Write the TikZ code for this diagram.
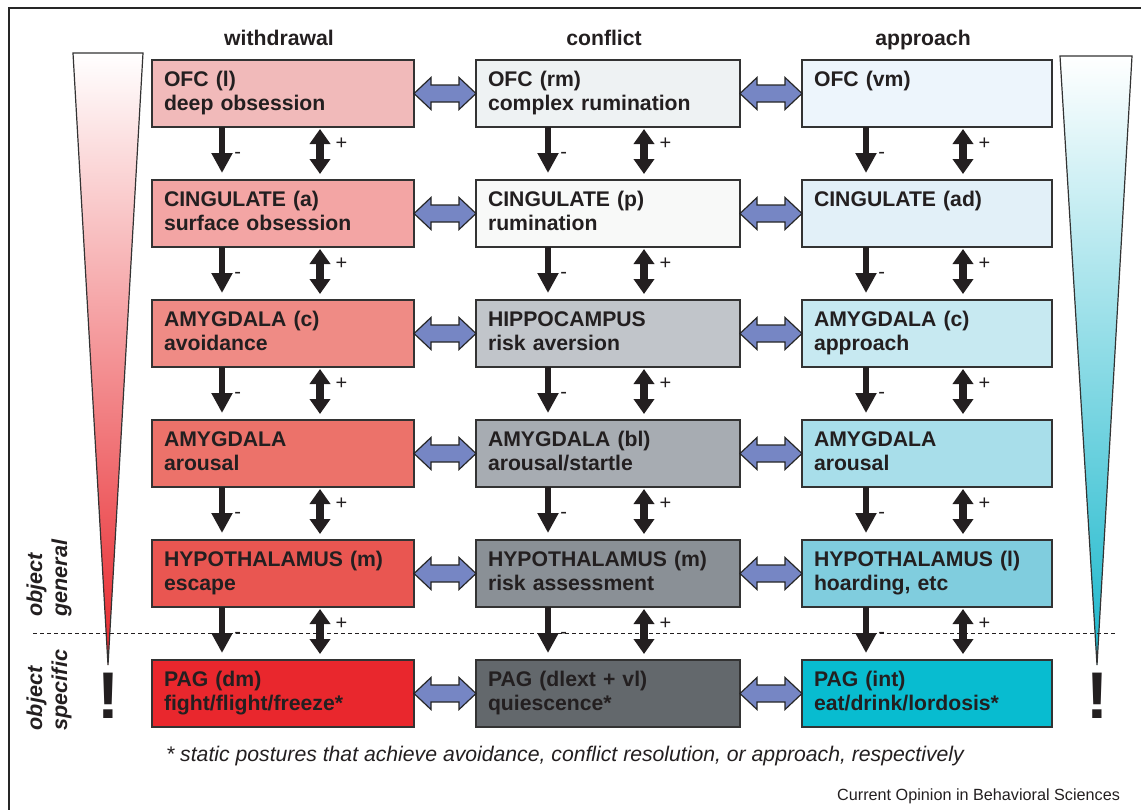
\documentclass[tikz,border=0pt]{standalone}
\usepackage{fontspec}
\setmainfont{Liberation Sans}
\usetikzlibrary{arrows.meta,positioning,calc}

\definecolor{wd1}{RGB}{241,186,186}
\definecolor{wd2}{RGB}{243,165,164}
\definecolor{wd3}{RGB}{239,139,133}
\definecolor{wd4}{RGB}{236,114,106}
\definecolor{wd5}{RGB}{233,86,81}
\definecolor{wd6}{RGB}{233,39,45}
\definecolor{cf1}{RGB}{238,242,243}
\definecolor{cf2}{RGB}{248,249,248}
\definecolor{cf3}{RGB}{193,197,202}
\definecolor{cf4}{RGB}{167,172,178}
\definecolor{cf5}{RGB}{138,144,150}
\definecolor{cf6}{RGB}{99,104,108}
\definecolor{ap1}{RGB}{237,245,252}
\definecolor{ap2}{RGB}{226,240,248}
\definecolor{ap3}{RGB}{199,233,241}
\definecolor{ap4}{RGB}{168,222,234}
\definecolor{ap5}{RGB}{128,205,222}
\definecolor{ap6}{RGB}{8,188,208}
\definecolor{linkblue}{RGB}{118,134,196}
\definecolor{wdbar}{RGB}{232,38,43}
\definecolor{apbar}{RGB}{25,183,204}
\definecolor{ink}{RGB}{35,31,32}

% fat two-headed arrow between two boxes side by side
\newcommand{\linkarrow}[2]{%
  \path[link] (#1.east) -- ++(17,-16) -- ++(0,7.5) -- ($(#2.west)+(-17,-8.5)$) -- ++(0,-7.5)
    -- (#2.west) -- ++(-17,16) -- ++(0,-7.5) -- ($(#1.east)+(17,8.5)$) -- ++(0,7.5) -- cycle;}

\begin{document}
\begin{tikzpicture}[
  x=0.5pt, y=-0.5pt,
  node distance=26.5pt and 31pt,
  box/.style={rectangle, draw=black!80, line width=0.8pt, outer sep=0pt, text=ink, text width=119pt,
    minimum height=33.5pt, inner xsep=6pt, inner ysep=2pt, align=left,
    font=\bfseries\fontsize{10.6}{12}\selectfont,
    execute at begin node=\strut, execute at end node=\strut},
  midbox/.style={box, text width=120pt},
  appbox/.style={box, text width=113pt},
  head/.style={font=\bfseries\fontsize{10.6}{12}\selectfont, text=ink, inner sep=0pt, text depth=0pt, xshift=-2pt},
  neg/.style={ink, line width=3.4pt, -{Triangle[length=10pt, width=10pt]}},
  both/.style={ink, line width=3.6pt, {Triangle[length=7.5pt, width=10pt]}-{Triangle[length=7.5pt, width=10pt]}},
  sign/.style={font=\fontsize{10}{12}\selectfont, text=ink, inner sep=0pt},
  link/.style={fill=linkblue, draw=black!85, line width=0.6pt, line join=miter},
  side/.style={rotate=90, align=left, text=ink, font=\bfseries\itshape\fontsize{10.8}{12.5}\selectfont},
  bang/.style={font=\bfseries\fontsize{33}{33}\selectfont, text=ink, inner sep=0pt}
]
  \useasboundingbox (0,0) rectangle (1141,810);
  \draw[black!85, line width=0.7pt] (1141,8) -- (9,8) -- (9,810);

  % withdrawal column
  \node[box, fill=wd1, anchor=north west] (w1) at (152,60) {OFC (l)\\deep obsession};
  \node[box, fill=wd2, below=of w1] (w2) {CINGULATE (a)\\surface obsession};
  \node[box, fill=wd3, below=of w2] (w3) {AMYGDALA (c)\\avoidance};
  \node[box, fill=wd4, below=of w3] (w4) {AMYGDALA\\arousal};
  \node[box, fill=wd5, below=of w4] (w5) {HYPOTHALAMUS (m)\\escape};
  \node[box, fill=wd6, below=of w5] (w6) {PAG (dm)\\fight/flight/freeze*};

  % conflict column
  \node[midbox, fill=cf1, right=of w1] (c1) {OFC (rm)\\complex rumination};
  \node[midbox, fill=cf2, right=of w2] (c2) {CINGULATE (p)\\rumination};
  \node[midbox, fill=cf3, right=of w3] (c3) {HIPPOCAMPUS\\risk aversion};
  \node[midbox, fill=cf4, right=of w4] (c4) {AMYGDALA (bl)\\arousal/startle};
  \node[midbox, fill=cf5, right=of w5] (c5) {HYPOTHALAMUS (m)\\risk assessment};
  \node[midbox, fill=cf6, right=of w6] (c6) {PAG (dlext + vl)\\quiescence*};

  % approach column
  \node[appbox, fill=ap1, right=of c1] (a1) {OFC (vm)\\};
  \node[appbox, fill=ap2, right=of c2] (a2) {CINGULATE (ad)\\};
  \node[appbox, fill=ap3, right=of c3] (a3) {AMYGDALA (c)\\approach};
  \node[appbox, fill=ap4, right=of c4] (a4) {AMYGDALA\\arousal};
  \node[appbox, fill=ap5, right=of c5] (a5) {HYPOTHALAMUS (l)\\hoarding, etc};
  \node[appbox, fill=ap6, right=of c6] (a6) {PAG (int)\\eat/drink/lordosis*};

  \node[head, above=7pt of w1] (hw) {withdrawal};
  \node[head, above=7pt of c1] (hc) {conflict};
  \node[head, above=7pt of a1] (ha) {approach};

  % down (-) and two-way (+) arrows
  \foreach \col/\dx/\dy in {w/70/168, c/72/168, a/64/161}
    \foreach \r/\n in {1/2,2/3,3/4,4/5,5/6} {
      \draw[neg] ($(\col\r.south west)+(\dx,0)$) -- ($(\col\n.north west)+(\dx,-7)$)
        node[sign, pos=0.62, right=4.5pt] {-};
      \draw[both] ($(\col\r.south west)+(\dy,2)$) -- ($(\col\n.north west)+(\dy,-6)$)
        node[sign, pos=0.33, right=6pt] {+};
    }

  \foreach \r in {1,...,6} {\linkarrow{w\r}{c\r} \linkarrow{c\r}{a\r}}

  % tapering bars
  \coordinate (ltip) at (108,665);
  \coordinate (rtip) at (1097,665);
  \shadedraw[top color=white, bottom color=wdbar, draw=black!80, line width=0.6pt]
    (73,53) -- (143,53) -- (ltip) -- cycle;
  \shadedraw[top color=white, bottom color=apbar, draw=black!80, line width=0.6pt]
    (1060,56) -- (1132,56) -- (rtip) -- cycle;
  \node[bang, below=4pt of ltip] (lbang) {!};
  \node[bang, below=4pt of rtip] (rbang) {!};

  \draw[ink, line width=0.5pt, dash pattern=on 2pt off 1.5pt] (33,633) -- (1117,633);

  \node[side] (og) at (49,578) {object\\general};
  \node[side] (os) at (49,690) {object\\specific};

  \node[font=\itshape\fontsize{10.6}{12}\selectfont, text=ink] (note) at (565,756)
    {* static postures that achieve avoidance, conflict resolution, or approach, respectively};
  \node[anchor=east, font=\fontsize{8.1}{10}\selectfont, text=ink] (credit) at (1127,796)
    {Current Opinion in Behavioral Sciences};
\end{tikzpicture}
\end{document}
